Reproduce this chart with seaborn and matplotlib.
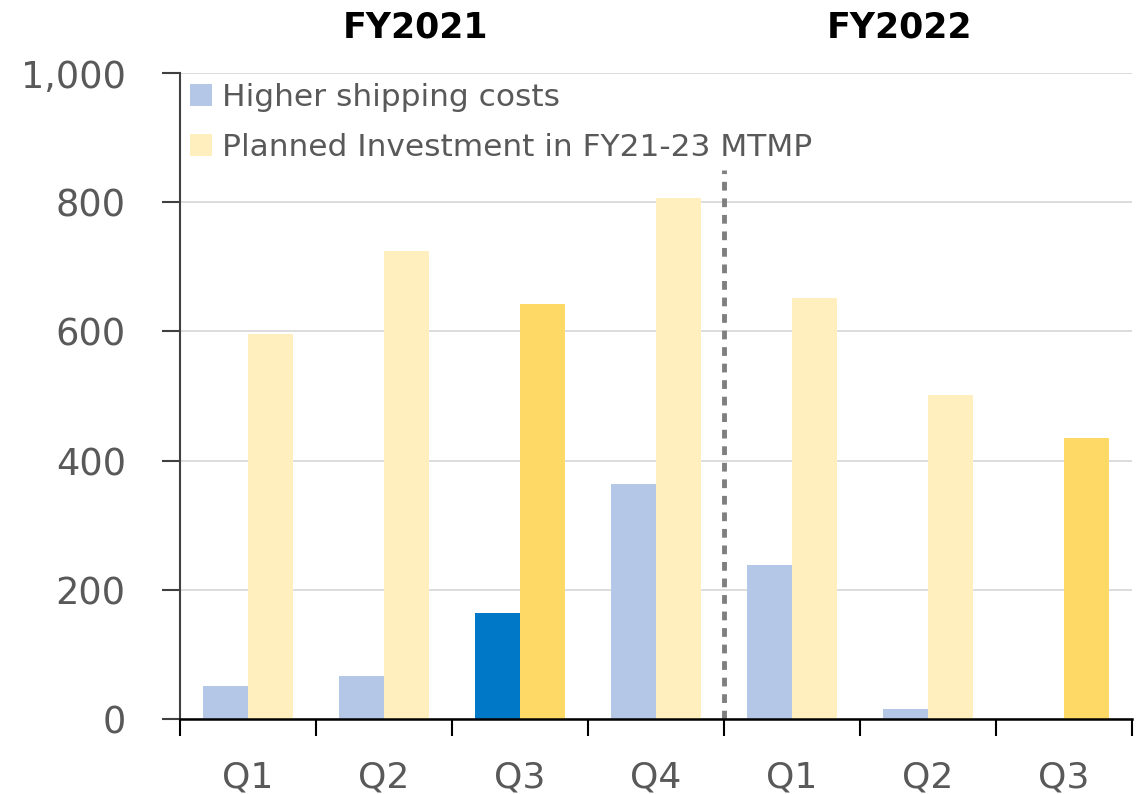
import pandas as pd
import numpy as np
import matplotlib.pyplot as plt
import seaborn as sns
from matplotlib.patches import Patch

# chart data
periods = ["FY21 Q1", "FY21 Q2", "FY21 Q3", "FY21 Q4", "FY22 Q1", "FY22 Q2", "FY22 Q3"]
quarter_labels = ["Q1", "Q2", "Q3", "Q4", "Q1", "Q2", "Q3"]
shipping_costs = [51, 67, 164, 364, 238, 15, 0]
planned_investment = [596, 724, 642, 806, 652, 502, 435]
series_names = ["Higher shipping costs", "Planned Investment in FY21-23 MTMP"]
year_labels = ["FY2021", "FY2022"]
highlight = ["FY21 Q3", "FY22 Q3"]

light_blue = "#B4C7E7"
dark_blue = "#0078C8"
light_yellow = "#FFEFBF"
bright_yellow = "#FFD966"
text_grey = "#595959"


def main():
    df = pd.DataFrame({
        "period": periods * 2,
        "value": shipping_costs + planned_investment,
        "series": [series_names[0]] * len(periods) + [series_names[1]] * len(periods),
    })

    sns.set_style("white")
    plt.rcParams["font.family"] = ["DejaVu Sans"]

    fig = plt.figure(figsize=(11.42, 7.94), dpi=100)
    ax = fig.add_axes([0.1576, 0.0945, 0.8334, 0.8135])

    sns.barplot(data=df, x="period", y="value", hue="series", order=periods,
                hue_order=series_names, palette=[light_blue, light_yellow],
                width=0.66, gap=0, saturation=1, linewidth=0, ax=ax, legend=False, zorder=3)

    # highlight the latest quarters
    for i, p in enumerate(periods):
        if p in highlight:
            ax.containers[0][i].set_facecolor(dark_blue)
            ax.containers[1][i].set_facecolor(bright_yellow)

    ax.set_xlim(-0.5, len(periods) - 0.5)
    ax.set_ylim(0, 1000)
    ax.set_yticks(np.arange(0, 1001, 200))
    ax.set_yticklabels([f"{v:,}" for v in range(0, 1001, 200)])
    ax.grid(axis="y", color="#D9D9D9", lw=1.3, zorder=0)
    ax.set_xlabel("")
    ax.set_ylabel("")

    # ticks on category boundaries, labels at centres
    ax.set_xticks(np.arange(-0.5, len(periods), 1))
    ax.set_xticklabels([])
    ax.set_xticks(range(len(periods)), minor=True)
    ax.set_xticklabels(quarter_labels, minor=True)
    ax.tick_params(axis="x", which="major", length=12, width=1.5, color="black", direction="out", bottom=True)
    ax.tick_params(axis="x", which="minor", length=0, pad=30, labelsize=26, labelcolor=text_grey)
    ax.tick_params(axis="y", length=13, width=1.5, color="#404040", direction="out", left=True,
                   pad=26, labelsize=26.5, labelcolor=text_grey)

    for side in ["top", "right"]:
        ax.spines[side].set_visible(False)
    ax.spines["left"].set_color("#404040")
    ax.spines["left"].set_linewidth(1.5)
    ax.spines["bottom"].set_color("black")
    ax.spines["bottom"].set_linewidth(1.8)
    ax.spines["bottom"].set_zorder(5)

    # divider between fiscal years
    ax.vlines(3.5, 0, 850, colors="#7F7F7F", lw=3.5, linestyles=(0, (1.8, 1.6)), zorder=4)

    # fiscal year headers
    ax.text(1.23, 1.07, year_labels[0], transform=ax.get_xaxis_transform(),
            ha="center", va="center", fontsize=25, fontweight="bold", color="black")
    ax.text(4.79, 1.07, year_labels[1], transform=ax.get_xaxis_transform(),
            ha="center", va="center", fontsize=25, fontweight="bold", color="black")

    handles = [Patch(facecolor=light_blue, edgecolor="none"),
               Patch(facecolor=light_yellow, edgecolor="none")]
    ax.legend(handles, series_names, loc="upper left", bbox_to_anchor=(0.0, 1.0),
              frameon=False, fontsize=22.5, labelcolor=text_grey,
              handlelength=0.7, handleheight=0.7, handletextpad=0.32,
              labelspacing=0.68, borderpad=0.1, borderaxespad=0.22)

    fig.savefig("out.png", dpi=100)


if __name__ == "__main__":
    main()
